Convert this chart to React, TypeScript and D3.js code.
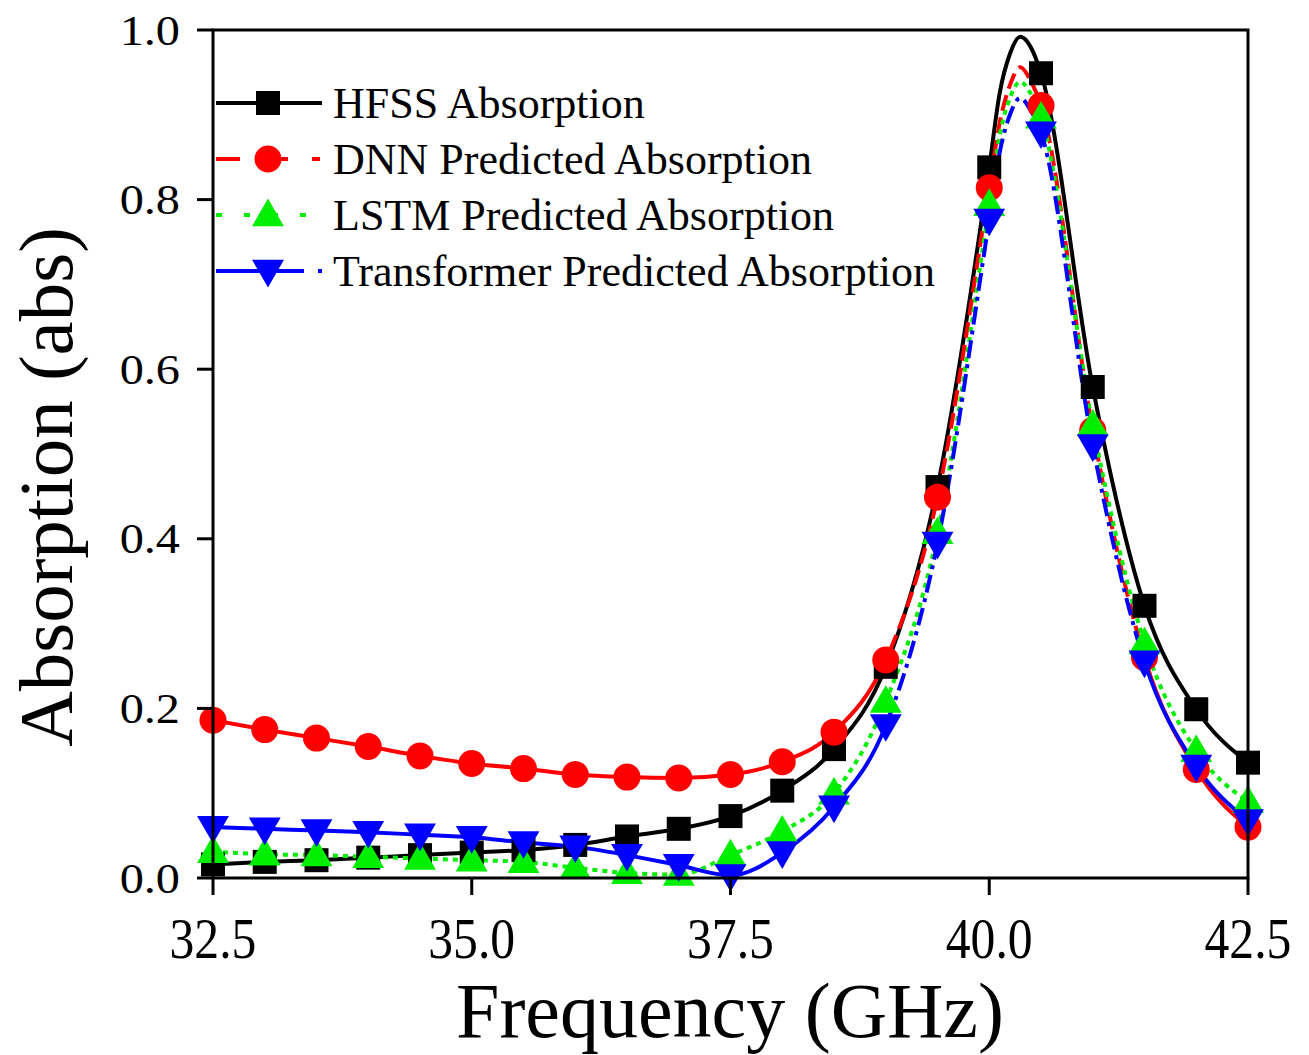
import React from "react";
import * as d3 from "d3";

// ---------- data ----------
const freqs = [32.5, 33.0, 33.5, 34.0, 34.5, 35.0, 35.5, 36.0, 36.5, 37.0, 37.5, 38.0, 38.5, 39.0, 39.5, 40.0, 40.5, 41.0, 41.5, 42.0, 42.5];
const hfss = [0.016, 0.019, 0.021, 0.024, 0.027, 0.030, 0.033, 0.039, 0.049, 0.058, 0.073, 0.103, 0.152, 0.249, 0.461, 0.838, 0.949, 0.579, 0.321, 0.199, 0.136];
const dnn = [0.186, 0.175, 0.165, 0.155, 0.144, 0.135, 0.129, 0.122, 0.119, 0.118, 0.122, 0.137, 0.172, 0.257, 0.449, 0.814, 0.911, 0.528, 0.26, 0.128, 0.06];
const lstm = [0.031, 0.028, 0.027, 0.025, 0.023, 0.021, 0.019, 0.012, 0.006, 0.004, 0.027, 0.055, 0.1, 0.208, 0.407, 0.794, 0.897, 0.534, 0.277, 0.15, 0.09];
const transformer = [0.06, 0.058, 0.056, 0.054, 0.051, 0.048, 0.042, 0.037, 0.027, 0.015, 0.003, 0.03, 0.084, 0.18, 0.395, 0.776, 0.879, 0.51, 0.255, 0.132, 0.068];

// extra line points read around the resonance peak (no markers there)
const peakFreqs = [40.1, 40.2, 40.3, 40.4];
const hfssPeak = [0.925, 0.972, 0.992, 0.98];
const dnnPeak = [0.89, 0.935, 0.956, 0.94];
const lstmPeak = [0.875, 0.92, 0.939, 0.925];
const transformerPeak = [0.855, 0.9, 0.92, 0.905];

const seriesNames = ["HFSS Absorption", "DNN Predicted Absorption", "LSTM Predicted Absorption", "Transformer Predicted Absorption"];
const xTicks = [32.5, 35.0, 37.5, 40.0, 42.5];
const yTicks = [0.0, 0.2, 0.4, 0.6, 0.8, 1.0];

// ---------- layout ----------
const W = 1309, H = 1055;
const L = 213, R = 1248, T = 30, B = 878;
const x = d3.scaleLinear().domain([32.5, 42.5]).range([L, R]);
const y = d3.scaleLinear().domain([0, 1]).range([B, T]);

const SERIF = "'Liberation Serif', 'Times New Roman', serif";

type Shape = "square" | "circle" | "up" | "down";
interface Series {
  name: string; vals: number[]; peak: number[]; color: string; shape: Shape;
  dash: string | null; legendDash: string | null; steepOnly: boolean; width: number;
}

const series: Series[] = [
  { name: seriesNames[0], vals: hfss, peak: hfssPeak, color: "#000000", shape: "square", dash: null, legendDash: null, steepOnly: false, width: 4 },
  { name: seriesNames[1], vals: dnn, peak: dnnPeak, color: "#ff0000", shape: "circle", dash: "16,7", legendDash: "24,40,8,24,8,200", steepOnly: true, width: 4 },
  { name: seriesNames[2], vals: lstm, peak: lstmPeak, color: "#00ee00", shape: "up", dash: "5,5", legendDash: "6,22", steepOnly: false, width: 4 },
  { name: seriesNames[3], vals: transformer, peak: transformerPeak, color: "#0000ff", shape: "down", dash: "18,6,4,6", legendDash: "88,14,4,200", steepOnly: true, width: 4 },
];

function lineData(s: Series): [number, number][] {
  const pts: [number, number][] = freqs.map((f, i) => [f, s.vals[i]]);
  peakFreqs.forEach((f, i) => pts.push([f, s.peak[i]]));
  pts.sort((a, b) => a[0] - b[0]);
  return pts;
}

const lineGen = d3.line<[number, number]>()
  .x((d) => x(d[0]))
  .y((d) => y(d[1]))
  .curve(d3.curveMonotoneX);

const triPath = d3.symbol().type(d3.symbolTriangle).size(440)() || "";

function Marker({ shape, cx, cy, color }: { shape: Shape; cx: number; cy: number; color: string }) {
  if (shape === "square") return <rect x={cx - 12} y={cy - 12} width={24} height={24} fill={color} />;
  if (shape === "circle") return <circle cx={cx} cy={cy} r={13.5} fill={color} />;
  return <path d={triPath} fill={color} transform={`translate(${cx},${cy + (shape === "up" ? 2 : -2)}) ${shape === "down" ? "rotate(180)" : ""}`} />;
}

const steepLo = 39.05, steepHi = 41.45;

export default function App() {
  return (
    <svg width={W} height={H} style={{ position: "absolute", left: 0, top: 0, background: "#fff" }} xmlns="http://www.w3.org/2000/svg">
      <defs>
        <clipPath id="plot"><rect x={L} y={T - 4} width={R - L} height={B - T + 4} /></clipPath>
        <clipPath id="steep"><rect x={x(steepLo)} y={T - 4} width={x(steepHi) - x(steepLo)} height={B - T + 4} /></clipPath>
        <clipPath id="flat">
          <rect x={L} y={T - 4} width={x(steepLo) - L} height={B - T + 4} />
          <rect x={x(steepHi)} y={T - 4} width={R - x(steepHi)} height={B - T + 4} />
        </clipPath>
      </defs>
      <rect x={0} y={0} width={W} height={H} fill="#fff" />

      {/* series lines */}
      <g clipPath="url(#plot)">
        {series.map((s) => {
          const d = lineGen(lineData(s)) || "";
          return (
            <g key={s.name}>
              {s.steepOnly ? (
                <>
                  <path d={d} fill="none" stroke={s.color} strokeWidth={s.width} clipPath="url(#flat)" />
                  <path d={d} fill="none" stroke={s.color} strokeWidth={s.width} strokeDasharray={s.dash || undefined} clipPath="url(#steep)" />
                </>
              ) : (
                <path d={d} fill="none" stroke={s.color} strokeWidth={s.width} strokeDasharray={s.dash || undefined} />
              )}
            </g>
          );
        })}
      </g>
      {/* markers */}
      <g>
        {series.map((s) => (
          <g key={s.name + "m"}>
            {freqs.map((f, i) => (
              <Marker key={i} shape={s.shape} cx={x(f)} cy={y(s.vals[i])} color={s.color} />
            ))}
          </g>
        ))}
      </g>

      {/* frame */}
      <rect x={L} y={T} width={R - L} height={B - T} fill="none" stroke="#000" strokeWidth={3} />

      {/* y ticks */}
      {yTicks.map((t) => (
        <g key={"y" + t}>
          <line x1={L - 16} x2={L} y1={y(t)} y2={y(t)} stroke="#000" strokeWidth={3} />
          <text x={180} y={y(t)} dy="0.35em" textAnchor="end" fontFamily={SERIF} fontSize={42}
            transform={`translate(180,0) scale(1.15,1) translate(-180,0)`} fill="#000">{t.toFixed(1)}</text>
        </g>
      ))}
      {/* x ticks */}
      {xTicks.map((t) => (
        <g key={"x" + t}>
          <line x1={x(t)} x2={x(t)} y1={B} y2={B + 17} stroke="#000" strokeWidth={3} />
          <text x={x(t)} y={958} textAnchor="middle" fontFamily={SERIF} fontSize={54}
            transform={`translate(${x(t)},958) scale(0.92,1.05) translate(${-x(t)},-958)`} fill="#000">{t.toFixed(1)}</text>
        </g>
      ))}

      {/* axis titles */}
      <text x={730} y={1037} textAnchor="middle" fontFamily={SERIF} fontSize={78} fill="#000">Frequency (GHz)</text>
      <text transform={`translate(72,487) rotate(-90)`} textAnchor="middle" fontFamily={SERIF} fontSize={77} fill="#000">Absorption (abs)</text>

      {/* legend */}
      {series.map((s, i) => {
        const ly = 103 + i * 56;
        return (
          <g key={"leg" + i}>
            <line x1={216} x2={322} y1={ly} y2={ly} stroke={s.color} strokeWidth={s.width}
              strokeDasharray={s.legendDash || undefined} />
            <Marker shape={s.shape} cx={268} cy={ly} color={s.color} />
            <text x={333} y={ly + 15} fontFamily={SERIF} fontSize={44} fill="#000">{s.name}</text>
          </g>
        );
      })}
    </svg>
  );
}
